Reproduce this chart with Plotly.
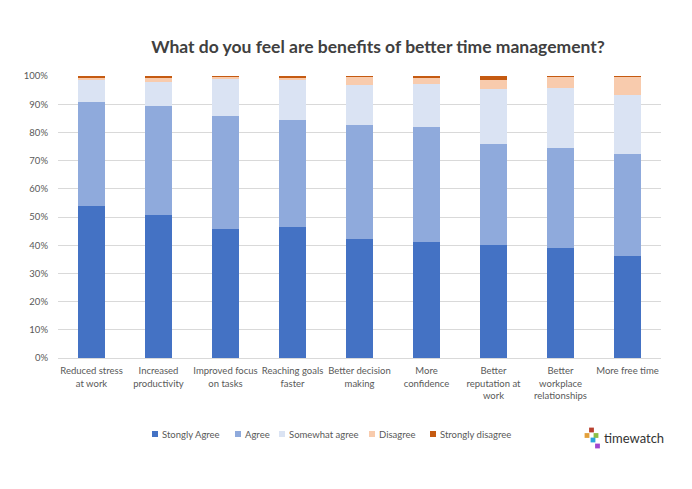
import plotly.graph_objects as go

categories = [
    "Reduced stress<br>at work",
    "Increased<br>productivity",
    "Improved focus<br>on tasks",
    "Reaching goals<br>faster",
    "Better decision<br>making",
    "More<br>confidence",
    "Better<br>reputation at<br>work",
    "Better<br>workplace<br>relationships",
    "More free time",
]

strongly_agree = [53.9, 50.6, 45.7, 46.3, 42.2, 41.3, 40.1, 39.1, 36.2]
agree = [36.8, 38.9, 40.1, 38.0, 40.4, 40.7, 35.7, 35.4, 36.3]
somewhat_agree = [7.8, 8.4, 13.3, 14.5, 14.1, 15.0, 19.5, 21.3, 20.7]
disagree = [1.1, 1.3, 0.6, 0.5, 3.2, 2.3, 3.4, 4.0, 6.5]
strongly_disagree = [0.4, 0.8, 0.3, 0.7, 0.1, 0.7, 1.3, 0.2, 0.3]

series_names = ["Stongly Agree", "Agree", "Somewhat agree", "Disagree", "Strongly disagree"]
series_values = [strongly_agree, agree, somewhat_agree, disagree, strongly_disagree]
colors = ["#4472C4", "#8FAADC", "#DAE3F3", "#F8CBAD", "#C55A11"]

tick_vals = [i / 10 for i in range(11)]
tick_text = [f"{i * 10}%" for i in range(11)]

W, H = 692, 489
OFF = 8  # page body margin offset
ML = 58 - OFF
MT = 76 - OFF
PW, PH = 603, 282
MR = W - ML - PW
MB = H - MT - PH

FONT = "Lato, Carlito, Calibri, sans-serif"

fig = go.Figure()
for name, vals, col in zip(series_names, series_values, colors):
    fig.add_trace(go.Bar(
        x=categories,
        y=[v / 100 for v in vals],
        name=name,
        marker=dict(color=col, line=dict(width=0)),
        showlegend=False,
    ))

def px_x(x):
    return (x - OFF - ML) / PW

def px_y(y):
    return (H - MB - (y - OFF)) / PH

shapes = []
annotations = []

# logo
logo_squares = [
    (591.5, 430, "#B8402E"),
    (587, 435.5, "#E3A03A"),
    (596, 435.5, "#8DBF45"),
    (593, 440, "#2AA5DC"),
    (597.5, 446, "#A046CF"),
]
s = 4.8
for cx, cy, c in logo_squares:
    shapes.append(dict(
        type="rect", xref="paper", yref="paper",
        x0=px_x(cx - s / 2), x1=px_x(cx + s / 2),
        y0=px_y(cy + s / 2), y1=px_y(cy - s / 2),
        fillcolor=c, line=dict(width=0),
    ))
annotations.append(dict(
    text="timewatch",
    xref="paper", yref="paper",
    x=px_x(602), y=px_y(438),
    xanchor="left", yanchor="middle",
    showarrow=False,
    font=dict(size=13, color="#333333", family="Lato, Open Sans, sans-serif"),
))

# legend (manual, Excel-style compact)
legend_x = [152, 235, 279, 369, 430]
ly = 434
ls = 6
for name, col, lx in zip(series_names, colors, legend_x):
    shapes.append(dict(
        type="rect", xref="paper", yref="paper",
        x0=px_x(lx), x1=px_x(lx + ls),
        y0=px_y(ly + ls / 2), y1=px_y(ly - ls / 2),
        fillcolor=col, line=dict(width=0),
    ))
    annotations.append(dict(
        text=name, xref="paper", yref="paper",
        x=px_x(lx + ls + 2), y=px_y(ly),
        xanchor="left", yanchor="middle", showarrow=False,
        font=dict(size=9.5, color="#595959", family=FONT),
    ))

fig.update_layout(
    width=W, height=H,
    barmode="stack",
    bargap=0.6,
    paper_bgcolor="white",
    plot_bgcolor="white",
    font=dict(family=FONT, color="#595959", size=10),
    margin=dict(l=ML, r=MR, t=MT, b=MB),
    showlegend=False,
    title=dict(
        text="<b>What do you feel are benefits of better time management?</b>",
        x=(378 - OFF) / W, xanchor="center", xref="container",
        y=1 - (47 - OFF) / H, yanchor="middle", yref="container",
        font=dict(size=17.5, color="#404040", family=FONT),
    ),
    yaxis=dict(
        range=[0, 1],
        tickvals=tick_vals,
        ticktext=tick_text,
        showgrid=True,
        gridcolor="#D9D9D9",
        gridwidth=1,
        zeroline=False,
        showline=False,
        ticks="",
        ticklabelstandoff=9,
        tickfont=dict(size=9.5, color="#595959"),
        fixedrange=True,
    ),
    xaxis=dict(
        showline=True,
        linecolor="#D9D9D9",
        linewidth=1,
        ticks="",
        tickangle=0,
        ticklabelstandoff=4,
        tickfont=dict(size=9.5, color="#595959"),
        showgrid=False,
    ),
    shapes=shapes,
    annotations=annotations,
)

fig.write_html("out.html")
